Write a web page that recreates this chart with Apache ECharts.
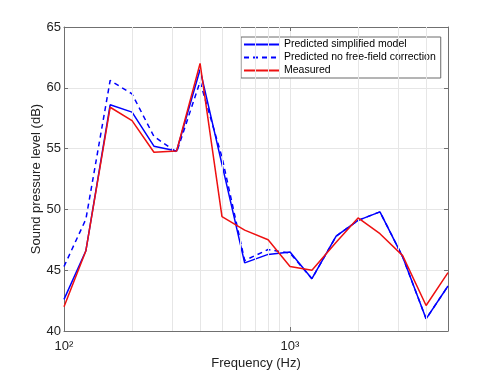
<!DOCTYPE html>
<html>
<head>
<meta charset="utf-8">
<script src="https://cdn.jsdelivr.net/npm/echarts@6/dist/echarts.min.js"></script>
<style>
html,body{margin:0;padding:0;background:#fff;}
#chart{width:496px;height:372px;}
</style>
</head>
<body>
<div id="chart"></div>
<script>
// ---- data ----
var frequencies = [100,125,160,200,250,315,400,500,630,800,1000,1250,1600,2000,2500,3150,4000,5000];
var predictedSimplified = [42.6,46.6,58.6,58.0,55.2,54.8,61.5,53.7,45.6,46.3,46.5,44.3,47.8,49.1,49.8,46.1,41.0,43.7];
var predictedNoFreeField = [45.3,49.2,60.6,59.5,56.0,54.7,60.5,54.3,45.8,46.7,46.4,44.3,47.8,49.1,49.8,46.1,41.0,43.7];
var measured = [42.0,46.6,58.4,57.3,54.7,54.8,62.0,49.4,48.3,47.5,45.3,45.0,47.3,49.3,48.0,46.2,42.1,44.8];
var minorGridFreqs = [200,300,400,500,600,700,800,900,2000,3000,4000];
var xTickLabels = {100:'10\u00b2', 1000:'10\u00b3'};
var seriesNames = ['Predicted simplified model','Predicted no free-field correction','Measured'];
var yTicks = [40,45,50,55,60,65];

function pairs(xs, ys){ return xs.map(function(x,i){ return [x, ys[i]]; }); }
var FONT = 'Liberation Sans, Arial, Helvetica, sans-serif';
var AXIS_COLOR = '#707070';
var GRID_COLOR = '#e6e6e6';

var chart = echarts.init(document.getElementById('chart'), null, {renderer:'canvas'});
chart.setOption({
  animation:false,
  backgroundColor:'#ffffff',
  textStyle:{fontFamily:FONT},
  grid:{left:64, right:48, top:27, bottom:41, containLabel:false, outerBoundsMode:'none'},
  legend:{
    orient:'vertical', left:241, top:37,
    data:seriesNames,
    itemWidth:35, itemHeight:12, itemGap:2,
    itemStyle:{opacity:0},
    padding:[2,5,2,2],
    backgroundColor:'#ffffff', borderColor:'#6a6a6a', borderWidth:1,
    textStyle:{fontSize:10.5, color:'#000', fontFamily:FONT},
    selectedMode:false
  },
  xAxis:[{
    type:'log', logBase:10, min:100, max:5000,
    name:'Frequency (Hz)', nameLocation:'middle', nameGap:26, nameMoveOverlap:false,
    nameTextStyle:{fontSize:13, color:'#222', fontFamily:FONT},
    axisLine:{show:true, lineStyle:{color:AXIS_COLOR, width:1}},
    axisTick:{show:true, inside:true, length:4, lineStyle:{color:AXIS_COLOR}},
    axisLabel:{fontSize:13, color:'#222', margin:9, fontFamily:FONT, showMaxLabel:false,
      formatter:function(v){ var k=Math.round(v); return xTickLabels[k] || ''; }},
    splitLine:{show:true, lineStyle:{color:GRID_COLOR, width:1}}
  },{
    type:'log', logBase:10, min:100, max:5000, position:'top',
    axisLine:{show:true, lineStyle:{color:AXIS_COLOR, width:1}},
    axisTick:{show:true, inside:true, length:4, lineStyle:{color:AXIS_COLOR}},
    axisLabel:{show:false}, splitLine:{show:false}
  }],
  yAxis:[{
    type:'value', min:40, max:65, interval:5,
    name:'Sound pressure level (dB)', nameLocation:'middle', nameGap:21, nameMoveOverlap:false,
    nameTextStyle:{fontSize:13, color:'#222', fontFamily:FONT},
    axisLine:{show:true, lineStyle:{color:AXIS_COLOR, width:1}},
    axisTick:{show:true, inside:true, length:4, lineStyle:{color:AXIS_COLOR}},
    axisLabel:{fontSize:13, color:'#222', margin:3, fontFamily:FONT,
      formatter:function(v){ return yTicks.indexOf(v)>=0 ? String(v) : ''; }},
    splitLine:{show:true, lineStyle:{color:GRID_COLOR, width:1}}
  },{
    type:'value', min:40, max:65, interval:5, position:'right',
    axisLine:{show:true, lineStyle:{color:AXIS_COLOR, width:1}},
    axisTick:{show:true, inside:true, length:4, lineStyle:{color:AXIS_COLOR}},
    axisLabel:{show:false}, splitLine:{show:false}
  }],
  series:[
    {
      name:seriesNames[0], type:'line', xAxisIndex:0, yAxisIndex:0,
      data:pairs(frequencies, predictedSimplified),
      showSymbol:false, symbol:'none', z:4,
      lineStyle:{color:'#0000ff', width:1.5, type:'solid'},
      itemStyle:{color:'#0000ff'},
      markLine:{
        silent:true, symbol:'none', label:{show:false}, animation:false,
        lineStyle:{color:GRID_COLOR, width:1, type:'solid'},
        data:minorGridFreqs.map(function(f){ return {xAxis:f}; })
      }
    },
    {
      name:seriesNames[1], type:'line', xAxisIndex:0, yAxisIndex:0,
      data:pairs(frequencies, predictedNoFreeField),
      showSymbol:false, symbol:'none', z:3,
      lineStyle:{color:'#0000ff', width:1.5, type:[5,4]},
      itemStyle:{color:'#0000ff'}
    },
    {
      name:seriesNames[2], type:'line', xAxisIndex:0, yAxisIndex:0,
      data:pairs(frequencies, measured),
      showSymbol:false, symbol:'none', z:5,
      lineStyle:{color:'#ee1111', width:1.5, type:'solid'},
      itemStyle:{color:'#ee1111'}
    }
  ]
});
</script>
</body>
</html>
